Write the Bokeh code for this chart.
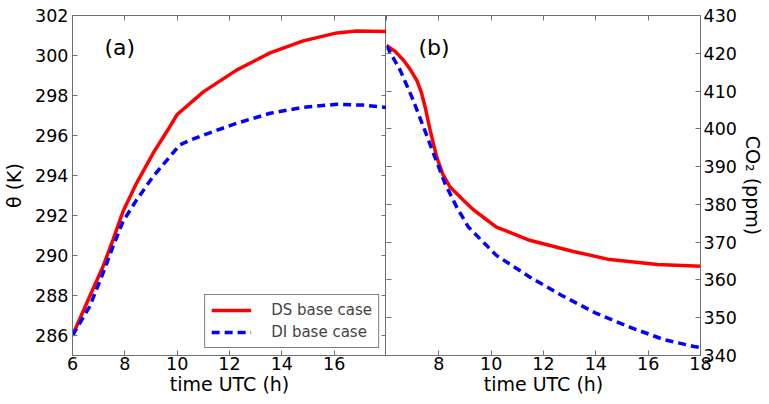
from bokeh.plotting import figure
from bokeh.models import Range1d, LinearAxis, FixedTicker, Label, CustomLabelingPolicy
from bokeh.layouts import row
from bokeh.embed import file_html
from bokeh.resources import INLINE

# ---- data ----
hours_theta_ds = [6.0, 6.66, 7.17, 7.55, 7.93, 8.45, 9.08, 9.72, 10.0, 11.0, 12.27,
                  13.55, 14.82, 16.1, 16.86, 18.0]
theta_ds = [286.0, 287.96, 289.46, 290.79, 292.2, 293.62, 295.11, 296.44, 297.05, 298.18,
            299.27, 300.13, 300.73, 301.13, 301.23, 301.2]
hours_theta_di = [6.0, 6.66, 7.17, 7.55, 7.93, 8.45, 9.08, 9.72, 10.1, 10.49, 11.0, 12.27,
                  13.55, 14.82, 16.1, 17.1, 18.0]
theta_di = [286.0, 287.46, 289.13, 290.46, 291.7, 292.78, 293.95, 294.94, 295.53, 295.76,
            296.02, 296.61, 297.11, 297.41, 297.56, 297.52, 297.4]

hours_co2_ds = [6.0, 6.33, 6.66, 6.9, 7.16, 7.33, 7.48, 7.67, 7.92, 8.15, 8.43, 8.94, 9.32,
                9.7, 10.2, 11.47, 13.1, 14.45, 16.35, 18.0]
co2_ds = [422.1, 420.5, 418.1, 415.8, 412.8, 409.7, 405.7, 399.6, 392.5, 388.0, 384.6,
          381.1, 378.6, 376.6, 374.0, 370.5, 367.6, 365.5, 364.1, 363.6]
hours_co2_di = [6.0, 6.53, 6.97, 7.42, 7.8, 8.24, 8.68, 9.13, 10.2, 11.47, 12.7, 14.0,
                15.34, 16.6, 17.75, 18.0]
co2_di = [422.0, 415.4, 408.4, 400.4, 393.4, 385.5, 379.3, 374.0, 366.5, 360.8, 355.9,
          351.2, 347.4, 344.2, 342.4, 342.1]

x_ticks = [6, 8, 10, 12, 14, 16, 18]
x_ticks_a = [6, 8, 10, 12, 14, 16]
x_ticks_b = [8, 10, 12, 14, 16, 18]
theta_ticks = [286, 288, 290, 292, 294, 296, 298, 300, 302]
co2_ticks = [340, 350, 360, 370, 380, 390, 400, 410, 420, 430]

FONT = "DejaVu Sans"
AX = "#707070"
RED = "#ff0000"
BLUE = "#0000ff"
DASH = "8 5"
LW = 3.5
TICK_FS = "17.5px"
LABEL_FS = "19px"
FW = 314
B_LEFT, B_RIGHT, B_TOP, B_BOTTOM = 72, 68, 15, 48
H = B_TOP + 340 + B_BOTTOM


def style_axis(ax, show_labels=True):
    ax.axis_line_color = AX
    ax.major_tick_line_color = AX
    ax.major_tick_in = 5
    ax.major_tick_out = 0
    ax.minor_tick_line_color = None
    ax.major_label_text_font = FONT
    ax.major_label_text_color = "black"
    ax.axis_label_text_font = FONT
    ax.axis_label_text_font_style = "normal"
    ax.axis_label_text_color = "black"
    ax.axis_label_text_font_size = LABEL_FS
    if show_labels:
        ax.major_label_text_font_size = TICK_FS
        ax.major_label_standoff = 4
    else:
        ax.major_label_text_font_size = "0px"
        ax.major_label_standoff = 0
        ax.major_label_policy = CustomLabelingPolicy(code="return new Set()")


# ---- left panel ----
p1 = figure(width=B_LEFT + FW, height=H, output_backend="svg", toolbar_location=None,
            x_range=Range1d(6, 18), y_range=Range1d(285, 302),
            min_border_left=B_LEFT, min_border_right=0, min_border_top=B_TOP,
            min_border_bottom=B_BOTTOM)
p1.xgrid.visible = False
p1.ygrid.visible = False
p1.outline_line_color = AX

p1.line(hours_theta_ds, theta_ds, line_color=RED, line_width=LW, legend_label="DS base case")
p1.line(hours_theta_di, theta_di, line_color=BLUE, line_width=LW, line_dash=DASH,
        legend_label="DI base case")

p1.xaxis.ticker = FixedTicker(ticks=x_ticks_a)
p1.xaxis.axis_label = "time UTC (h)"
p1.yaxis.ticker = FixedTicker(ticks=theta_ticks)
p1.yaxis.axis_label = "θ (K)"
for ax in p1.xaxis + p1.yaxis:
    style_axis(ax)
p1.xaxis.major_label_standoff = 1
p1.xaxis.axis_label_standoff = 0
p1.yaxis.axis_label_standoff = 7

top1 = LinearAxis(ticker=FixedTicker(ticks=x_ticks))
style_axis(top1, False)
p1.add_layout(top1, "above")
right1 = LinearAxis(ticker=FixedTicker(ticks=theta_ticks))
style_axis(right1, False)
p1.add_layout(right1, "right")

lg = p1.legend[0]
lg.location = "bottom_right"
lg.margin = 7
lg.padding = 6
lg.spacing = 4
lg.glyph_width = 40
lg.glyph_height = 18
lg.label_height = 18
lg.label_standoff = 20
lg.label_text_font = FONT
lg.label_text_font_size = "15px"
lg.border_line_color = "black"
lg.border_line_width = 1
lg.background_fill_alpha = 1

p1.add_layout(Label(x=7.22, y=300.4, text="(a)", text_font=FONT, text_font_size="22px",
                    text_baseline="middle", text_color="black"))

# ---- right panel ----
p2 = figure(width=FW + B_RIGHT, height=H, output_backend="svg", toolbar_location=None,
            x_range=Range1d(6, 18), y_range=Range1d(340, 430), y_axis_location="right",
            min_border_left=0, min_border_right=B_RIGHT, min_border_top=B_TOP,
            min_border_bottom=B_BOTTOM)
p2.xgrid.visible = False
p2.ygrid.visible = False
p2.outline_line_color = None

p2.line(hours_co2_ds, co2_ds, line_color=RED, line_width=LW)
p2.line(hours_co2_di, co2_di, line_color=BLUE, line_width=LW, line_dash=DASH)

p2.xaxis.ticker = FixedTicker(ticks=x_ticks_b)
p2.xaxis.axis_label = "time UTC (h)"
p2.yaxis.ticker = FixedTicker(ticks=co2_ticks)
p2.yaxis.axis_label = "CO₂ (ppm)"
for ax in p2.xaxis + p2.yaxis:
    style_axis(ax)
p2.xaxis.major_label_standoff = 1
p2.xaxis.axis_label_standoff = 0
p2.yaxis.major_label_standoff = 3
p2.yaxis.axis_label_standoff = 2

top2 = LinearAxis(ticker=FixedTicker(ticks=x_ticks))
style_axis(top2, False)
p2.add_layout(top2, "above")
left2 = LinearAxis(ticker=FixedTicker(ticks=co2_ticks))
style_axis(left2, False)
left2.axis_line_color = None
p2.add_layout(left2, "left")

p2.add_layout(Label(x=7.22, y=421.5, text="(b)", text_font=FONT, text_font_size="22px",
                    text_baseline="middle", text_color="black"))

layout = row(p1, p2)
open("out.html", "w").write(file_html(layout, INLINE))
